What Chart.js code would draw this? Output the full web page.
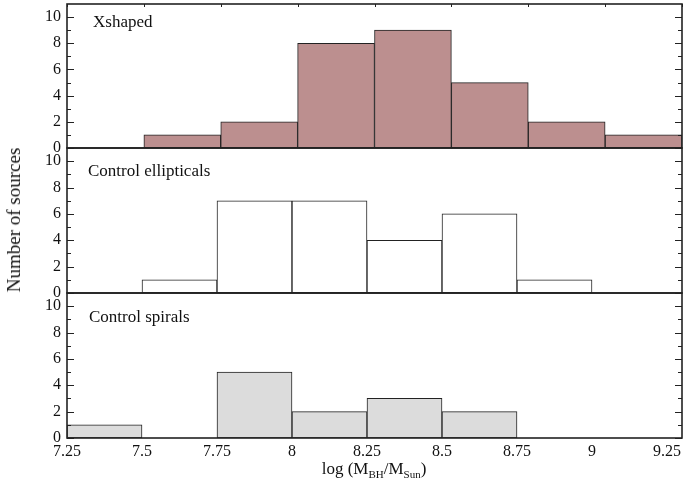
<!DOCTYPE html>
<html>
<head>
<meta charset="utf-8">
<script src="https://cdn.jsdelivr.net/npm/chart.js@4/dist/chart.umd.min.js"></script>
<style>
  body { margin: 0; background: #fff; width: 683px; height: 484px; overflow: hidden; position: relative;
         font-family: "Liberation Serif", "Times New Roman", serif; color: #111; }
  canvas { position: absolute; left: 0; }
  .lbl { position: absolute; white-space: nowrap; }
  #ytitle { font-size: 19px; left: 14px; top: 220px; transform: translate(-50%, -50%) rotate(-90deg); }
  #xtitle { font-size: 17px; left: 374px; top: 469px; transform: translate(-50%, -50%); }
  #xtitle sub { font-size: 11px; vertical-align: -4px; }
</style>
</head>
<body>
<canvas id="p1" width="683" height="160" style="top:0px"></canvas>
<canvas id="p2" width="683" height="170" style="top:136px"></canvas>
<canvas id="p3" width="683" height="203" style="top:281px"></canvas>
<div class="lbl" id="ytitle">Number of sources</div>
<div class="lbl" id="xtitle">log (M<sub>BH</sub>/M<sub>Sun</sub>)</div>
<script>
// centres des bins (largeur 0.25)
const binCenters = [7.375, 7.625, 7.875, 8.125, 8.375, 8.625, 8.875, 9.125];
const xshaped = [0, 1, 2, 8, 9, 5, 2, 1];
const ellipticals = [0, 1, 7, 7, 4, 6, 1, 0];
const spirals = [1, 0, 5, 2, 3, 2, 0, 0];
const panelNames = ["Xshaped", "Control ellipticals", "Control spirals"];
const yTicks = [0, 2, 4, 6, 8, 10];

const serif = '"Liberation Serif", "Times New Roman", serif';

// cadre, petits traits vers l'intérieur et nom du panneau
const framePlugin = {
  id: "frame",
  afterDatasetsDraw(chart, args, opts) {
    const { ctx, chartArea: a, scales: { x, y } } = chart;
    ctx.save();
    ctx.strokeStyle = "#222";
    ctx.lineWidth = 1;
    const line = (x1, y1, x2, y2) => { ctx.beginPath(); ctx.moveTo(x1, y1); ctx.lineTo(x2, y2); ctx.stroke(); };
    for (let v = 0; v <= 10; v++) {
      const py = Math.round(y.getPixelForValue(v)) + 0.5;
      const len = v % 2 === 0 ? 7 : 4;
      line(a.left, py, a.left + len, py);
      line(a.right - len, py, a.right, py);
    }
    if (opts.topTicks) {
      x.ticks.forEach(t => {
        const px = Math.round(x.getPixelForValue(t.value)) + 0.5;
        line(px, a.top, px, a.top + 3);
      });
    }
    ctx.lineWidth = 1.6;
    ctx.strokeRect(a.left, a.top, a.right - a.left, a.bottom - a.top);
    ctx.fillStyle = "#111";
    ctx.font = "17px " + serif;
    ctx.textBaseline = "middle";
    ctx.fillText(opts.label, a.left + opts.dx, a.top + opts.dy);
    ctx.restore();
  }
};

function makePanel(id, counts, fill, label, xMax, showX, pad, extra) {
  const data = [];
  counts.forEach((c, i) => { if (c > 0) data.push({ x: binCenters[i], y: c }); });
  return new Chart(document.getElementById(id), {
    type: "bar",
    data: {
      datasets: [{
        data: data,
        backgroundColor: fill,
        borderColor: "#222",
        borderWidth: 1,
        borderSkipped: false,
        barPercentage: 1,
        categoryPercentage: 1
      }]
    },
    options: {
      responsive: false,
      animation: false,
      devicePixelRatio: 1,
      layout: { padding: pad },
      scales: {
        x: {
          type: "linear",
          offset: false,
          min: 7.25,
          max: xMax,
          display: showX,
          grid: { display: false, drawTicks: false, offset: false },
          border: { display: false },
          ticks: {
            stepSize: 0.25,
            includeBounds: false,
            autoSkip: false,
            maxRotation: 0,
            padding: 4,
            color: "#111",
            font: { family: serif, size: 16 },
            callback: v => String(Number(v.toFixed(2)))
          },
          afterFit: s => {
            if (showX) s.height = 46;
            s.paddingLeft = 0;
            s.paddingRight = 0;
          }
        },
        y: {
          min: 0,
          max: 11,
          grid: { display: false, drawTicks: false },
          border: { display: false },
          afterBuildTicks: s => { s.ticks = yTicks.map(v => ({ value: v })); },
          ticks: { padding: 6, color: "#111", font: { family: serif, size: 16 } },
          afterFit: s => {
            s.width = 67;
            s.paddingTop = 0;
            s.paddingBottom = 0;
          }
        }
      },
      plugins: {
        legend: { display: false },
        tooltip: { enabled: false },
        frame: Object.assign({ label: label }, extra)
      }
    },
    plugins: [framePlugin]
  });
}

makePanel("p1", xshaped, "#bc8f8f", panelNames[0], 9.25, false,
  { top: 4, bottom: 12, left: 0, right: 1 }, { dx: 26, dy: 19, topTicks: true });
makePanel("p2", ellipticals, "#ffffff", panelNames[1], 9.3, false,
  { top: 12, bottom: 13, left: 0, right: 1 }, { dx: 21, dy: 24 });
makePanel("p3", spirals, "#dcdcdc", panelNames[2], 9.3, true,
  { top: 12, bottom: 0, left: 0, right: 1 }, { dx: 22, dy: 25 });
</script>
</body>
</html>
